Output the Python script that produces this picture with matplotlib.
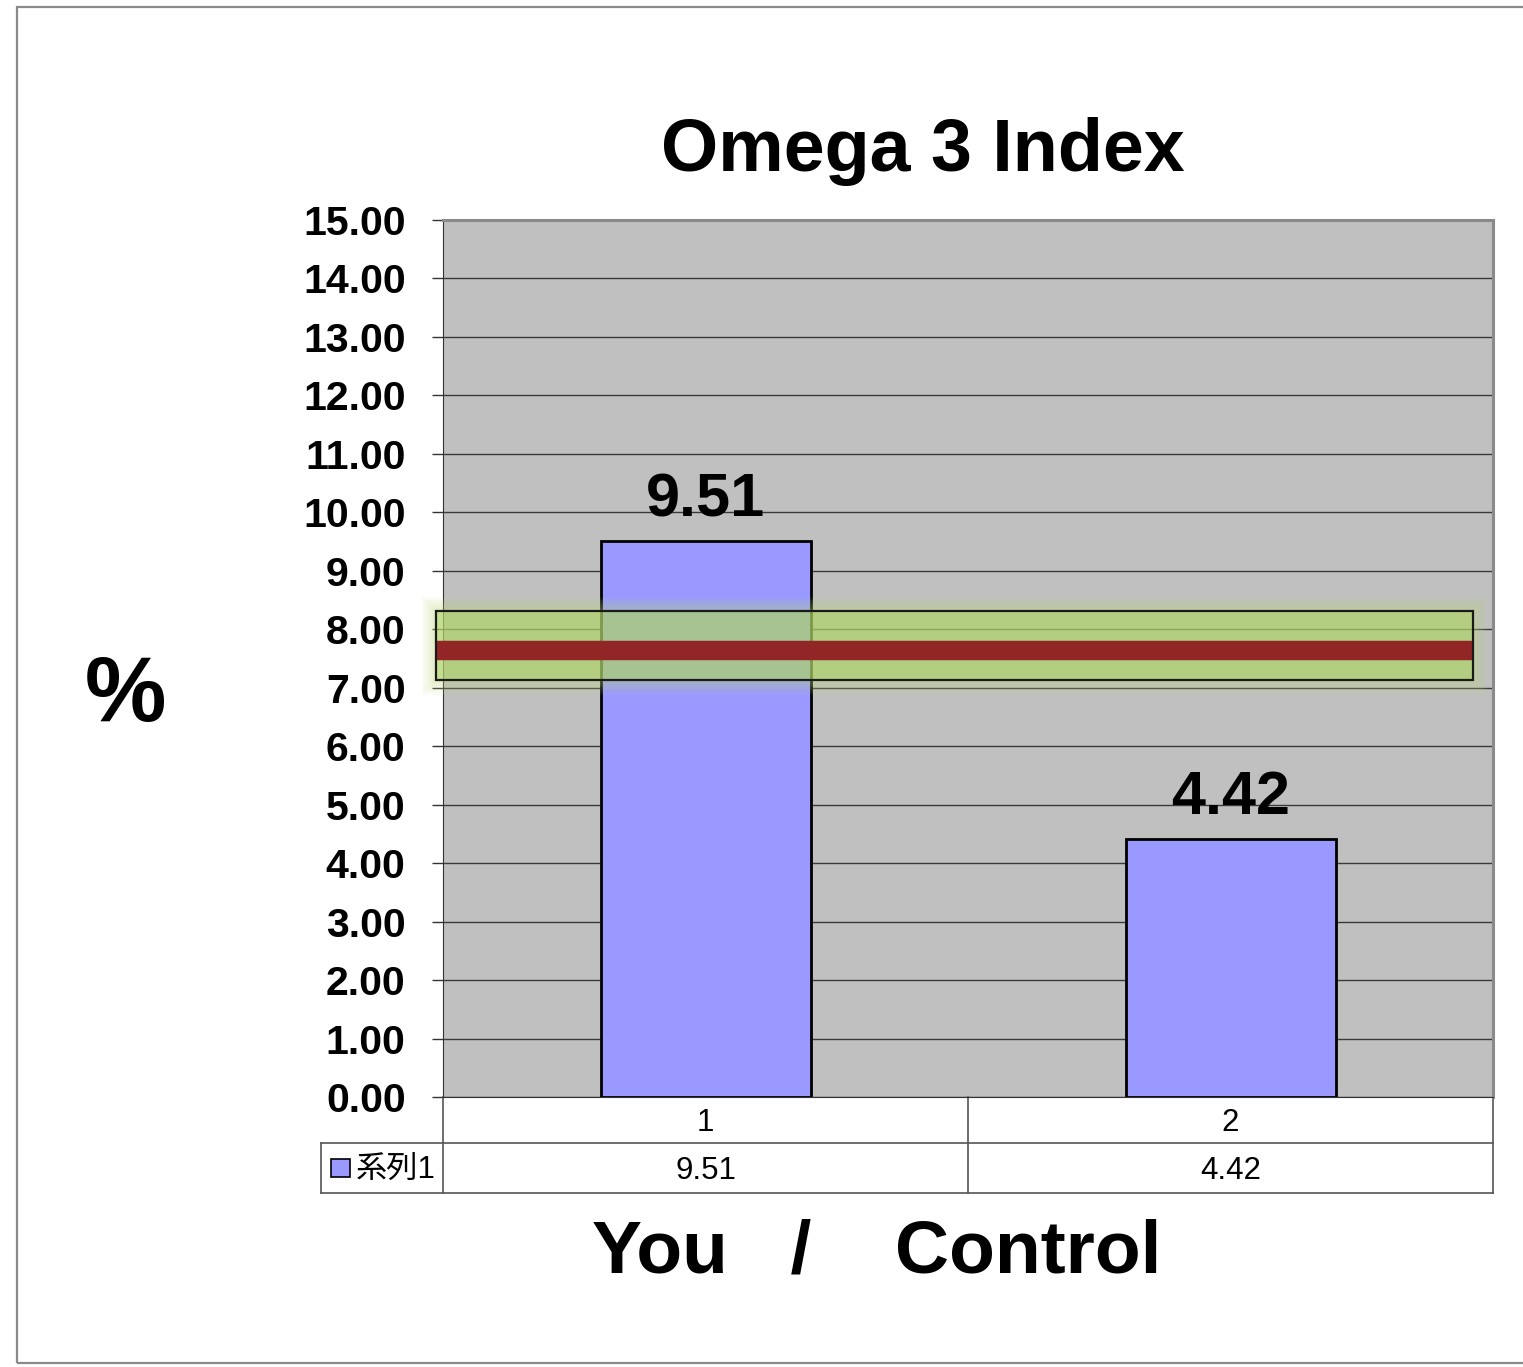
""" Omega 3 index bar chart with data table
"""
import numpy as np
import matplotlib.pyplot as plt
from matplotlib.patches import Rectangle

# data
categories = ['1', '2']
values = [9.51, 4.42]
series_name = '系列1'
target_low, target_high = 7.13, 8.31   # green target band
target_line = 7.65                     # red marker line
y_ticks = np.arange(0, 16, 1)

bar_color = '#9999ff'
base_font = ['Liberation Sans', 'Noto Sans CJK JP', 'DejaVu Sans']
plt.rcParams['font.family'] = base_font

fig = plt.figure(figsize=(15.23, 13.67), dpi=100)
W, H = 1523, 1367

# outer frame (right side runs off the picture)
fig.patches.append(Rectangle((17 / W, 1 - 1363 / H), 1.2, (1363 - 7) / H,
                             transform=fig.transFigure, fill=False,
                             edgecolor='#8a8a8a', lw=1.6, clip_on=False))

ax = fig.add_axes([443 / W, 1 - 1097 / H, 1050 / W, 877 / H])
ax.set_facecolor('#c0c0c0')

x = np.arange(1, len(values) + 1)
ax.bar(x, values, width=0.40, color=bar_color, edgecolor='black', lw=2, zorder=3)

ax.set_xlim(0.5, len(values) + 0.5)
ax.set_ylim(0, 15)
ax.set_yticks(y_ticks)
ax.set_yticklabels([f'{t:.2f}' for t in y_ticks], fontsize=29.5, fontweight='bold')
ax.tick_params(axis='y', length=8, width=1, color='#333333', pad=19)
ax.set_xticks([])
ax.yaxis.grid(True, color='#3a3a3a', lw=1)
ax.set_axisbelow(True)

for side in ['top', 'right']:
  ax.spines[side].set_color('#8a8a8a')
  ax.spines[side].set_linewidth(2.2)
ax.spines['left'].set_color('#333333')
ax.spines['bottom'].set_color('#333333')

# value labels above bars
for xi, v in zip(x, values):
  ax.text(xi, v + 0.2, f'{v:.2f}', ha='center', va='bottom',
          fontsize=44, fontweight='bold')

# target band with soft glow
band_x0 = 0.5 - 7 / 525
band_x1 = 0.5 + (1473 - 443) / 525
for k in range(8, 0, -1):
  dx = k * 1.8 / 525
  dy = k * 1.8 / 58.47
  ax.add_patch(Rectangle((band_x0 - dx, target_low - dy),
                         band_x1 - band_x0 + 2 * dx,
                         target_high - target_low + 2 * dy,
                         facecolor='#bcdc78', alpha=0.06, lw=0,
                         zorder=4, clip_on=False))
ax.add_patch(Rectangle((band_x0, target_low), band_x1 - band_x0,
                       target_high - target_low, facecolor='#acd464',
                       alpha=0.55, edgecolor='none', zorder=4, clip_on=False))
ax.add_patch(Rectangle((band_x0, target_low), band_x1 - band_x0,
                       target_high - target_low, fill=False,
                       edgecolor='#1a1a1a', lw=1.6, zorder=6, clip_on=False))
ax.plot([band_x0, band_x1], [target_line, target_line], color='#922626',
        lw=14, solid_capstyle='butt', zorder=5, clip_on=False)

# data table under the axes
tr = ax.get_xaxis_transform()
row1 = -46 / 877
row2 = -96 / 877
leg_left = 0.5 - (443 - 321) / 525
tcol = '#555555'
ax.plot([leg_left, 2.5], [row1, row1], color=tcol, lw=1.2, transform=tr, clip_on=False)
ax.plot([leg_left, 2.5], [row2, row2], color=tcol, lw=1.2, transform=tr, clip_on=False)
for xv in [0.5, 1.5, 2.5]:
  ax.plot([xv, xv], [0, row2], color=tcol, lw=1.2, transform=tr, clip_on=False)
ax.plot([leg_left, leg_left], [row1, row2], color=tcol, lw=1.2, transform=tr, clip_on=False)

txt_shift = -3 / 877
for xi, cat, v in zip(x, categories, values):
  ax.text(xi, row1 / 2 + txt_shift, cat, ha='center', va='center',
          fontsize=22.5, transform=tr)
  ax.text(xi, (row1 + row2) / 2 + txt_shift, f'{v:.2f}', ha='center',
          va='center', fontsize=22.5, transform=tr)

# legend key inside the table
sq_w = 19 / 525
sq_h = 18 / 877
ax.add_patch(Rectangle((0.5 - (443 - 331) / 525, (row1 + row2) / 2 - sq_h / 2),
                       sq_w, sq_h, facecolor=bar_color, edgecolor='black',
                       lw=1.2, transform=tr, clip_on=False))
ax.text(0.5 - (443 - 356) / 525, (row1 + row2) / 2 + txt_shift, series_name,
        ha='left', va='center', fontsize=22.5, transform=tr, family=base_font)

# titles
fig.text(923 / W, 1 - 152 / H, 'Omega 3 Index', ha='center', va='center',
         fontsize=53, fontweight='bold')
fig.text(877 / W, 1 - 1253 / H, 'You   /    Control', ha='center', va='center',
         fontsize=54, fontweight='bold')
fig.text(125 / W, 1 - 697 / H, '%', ha='center', va='center',
         fontsize=66, fontweight='bold')

fig.savefig('out.png', dpi=100, facecolor='white')
